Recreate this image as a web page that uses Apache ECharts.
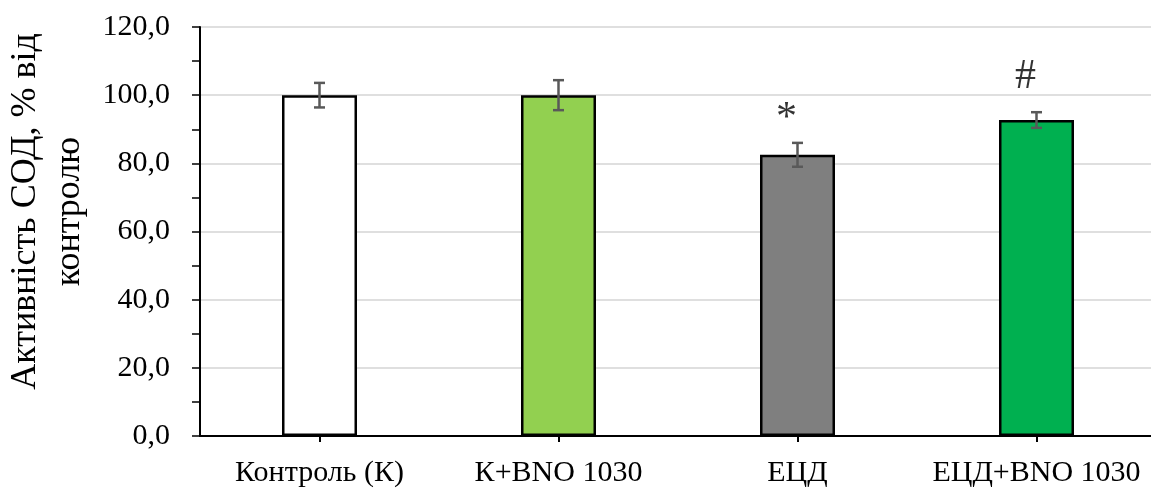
<!DOCTYPE html>
<html>
<head>
<meta charset="utf-8">
<script src="https://cdn.jsdelivr.net/npm/echarts@6/dist/echarts.min.js"></script>
<style>
  html, body { margin: 0; padding: 0; background: #fff; }
  #chart { width: 1151px; height: 490px; }
</style>
</head>
<body>
<div id="chart"></div>
<script>
// активність СОД, % від контролю
var categories = ['Контроль (К)', 'К+BNO 1030', 'ЕЦД', 'ЕЦД+BNO 1030'];
var values = [100.0, 100.0, 82.5, 92.7];
var errors = [3.6, 4.4, 3.5, 2.3];
var barColors = ['#ffffff', '#92d050', '#7f7f7f', '#00b050'];
var marks = ['', '', '*', '#'];
var markLevels = [null, null, 93.0, 105.4];
var yTicks = [0, 20, 40, 60, 80, 100, 120];

var font = "'Liberation Serif', 'Times New Roman', serif";

var chart = echarts.init(document.getElementById('chart'));

var option = {
    animation: false,
    grid: { left: 200, top: 27, bottom: 54, width: 956, outerBoundsMode: 'none', containLabel: false },
    xAxis: {
        type: 'category',
        data: categories,
        axisLine: { lineStyle: { color: '#000', width: 2 } },
        axisTick: { show: true, alignWithLabel: true, length: 6, lineStyle: { color: '#000', width: 2 } },
        axisLabel: { color: '#000', fontFamily: font, fontSize: 30, margin: 22, interval: 0 }
    },
    yAxis: {
        type: 'value',
        min: yTicks[0],
        max: yTicks[yTicks.length - 1],
        interval: 20,
        name: 'Активність СОД, % від\nконтролю',
        nameLocation: 'middle',
        nameGap: 104,
        nameTextStyle: { color: '#000', fontFamily: font, fontSize: 36, lineHeight: 44, padding: [0, 0, 0, 40] },
        axisLine: { show: true, lineStyle: { color: '#000', width: 2 } },
        axisTick: { show: true, length: 8, lineStyle: { color: '#000', width: 1.5 } },
        minorTick: { show: true, splitNumber: 2, length: 8, lineStyle: { color: '#000', width: 1.5 } },
        splitLine: { show: true, lineStyle: { color: '#d4d4d4', width: 1.5 } },
        axisLabel: {
            color: '#000', fontFamily: font, fontSize: 30, margin: 30,
            formatter: function (v) { return v.toFixed(1).replace('.', ','); }
        }
    },
    series: [
        {
            type: 'bar',
            barWidth: 75,
            data: values.map(function (v, i) {
                return { value: v, itemStyle: { color: barColors[i] } };
            }),
            itemStyle: { borderColor: '#000', borderWidth: 2.5 },
            z: 2
        },
        {
            type: 'custom',
            z: 3,
            data: values.map(function (v, i) { return [i, v - errors[i], v + errors[i]]; }),
            renderItem: function (params, api) {
                var x = api.value(0);
                var lo = api.coord([x, api.value(1)]);
                var hi = api.coord([x, api.value(2)]);
                var cap = 5.5;
                var st = { stroke: '#595959', lineWidth: 2.5 };
                return {
                    type: 'group',
                    children: [
                        { type: 'line', shape: { x1: hi[0], y1: hi[1], x2: lo[0], y2: lo[1] }, style: st },
                        { type: 'line', shape: { x1: hi[0] - cap, y1: hi[1], x2: hi[0] + cap, y2: hi[1] }, style: st },
                        { type: 'line', shape: { x1: lo[0] - cap, y1: lo[1], x2: lo[0] + cap, y2: lo[1] }, style: st }
                    ]
                };
            }
        },
        {
            type: 'scatter',
            symbolSize: 0,
            z: 4,
            data: markLevels.map(function (m, i) { return m === null ? null : [i, m]; }),
            label: {
                show: true,
                position: 'inside',
                offset: [-11, 0],
                color: '#000',
                fontFamily: font,
                fontSize: 42,
                formatter: function (p) { return marks[p.dataIndex]; }
            }
        }
    ]
};

chart.setOption(option);
</script>
</body>
</html>
